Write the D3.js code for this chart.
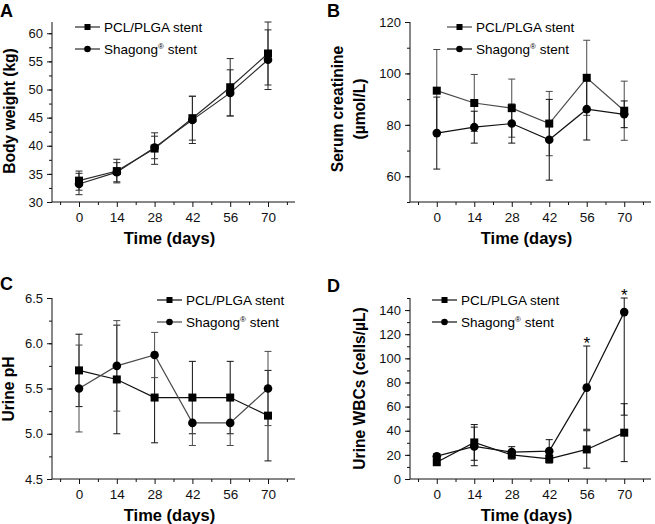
<!DOCTYPE html>
<html>
<head>
<meta charset="utf-8">
<script src="https://cdn.jsdelivr.net/npm/d3@7"></script>
<style>
  body { margin: 0; background: #fff; }
  svg { display: block; font-family: "Liberation Sans", Arial, sans-serif; }
  .tick text { fill: #111; }
  .domain, .tick line { stroke: #111; stroke-width: 1; }
</style>
</head>
<body>
<svg id="chart" width="655" height="524"></svg>
<script>
// time points (days)
const days = [0, 14, 28, 42, 56, 70];
const seriesNames = ["PCL/PLGA stent", "Shagong"];

// A - body weight (kg)
const weightPCL = [33.8, 35.5, 39.5, 44.9, 50.4, 56.4];
const weightPCLErr = [1.7, 2.1, 2.8, 3.9, 5.1, 5.6];
const weightSha = [33.2, 35.3, 39.7, 44.6, 49.4, 55.3];
const weightShaErr = [1.9, 1.7, 2.0, 4.2, 4.1, 5.3];

// B - serum creatinine (umol/L)
const creatPCL = [93.3, 88.5, 86.5, 80.5, 98.3, 85.5];
const creatPCLErr = [16, 11.1, 11.3, 12.5, 14.6, 11.5];
const creatSha = [76.8, 79.1, 80.5, 74.2, 86.1, 84.1];
const creatShaErr = [14, 6.2, 7.6, 15.7, 12, 5.2];

// C - urine pH
const phPCL = [5.7, 5.6, 5.4, 5.4, 5.4, 5.2];
const phPCLErr = [0.4, 0.6, 0.5, 0.4, 0.4, 0.5];
const phSha = [5.5, 5.75, 5.87, 5.12, 5.12, 5.5];
const phShaErr = [0.48, 0.5, 0.25, 0.25, 0.25, 0.41];

// D - urine WBCs (cells/uL)
const wbcPCL = [13.9, 30.3, 20, 16.7, 24.5, 38.4];
const wbcPCLErr = [2, 14.8, 3.5, 3.5, 15.5, 24];
const wbcSha = [18.9, 27, 22.3, 23.1, 75.7, 138.3];
const wbcShaErr = [2, 16, 4.5, 9.5, 34.5, 85.4];
const wbcStarDays = [56, 70];

const svg = d3.select("#chart");

const panels = [
  {letter: "A", lx: 0, ly: 17, left: 52, right: 295, top: 22, bottom: 202,
   yDomain: [30, 62], yMajor: d3.range(30, 61, 5), yMinor: d3.range(30, 62, 2.5), fmt: d3.format("d"),
   title: ["Body weight (kg)"], titleX: 14.5, titleY: 111,
   a: weightPCL, ae: weightPCLErr, b: weightSha, be: weightShaErr,
   colA: "#2a2a2a", colB: "#2a2a2a", legX: 75, legY: 27},
  {letter: "B", lx: 327, ly: 17, left: 410, right: 651, top: 22, bottom: 202,
   yDomain: [50, 120], yMajor: d3.range(60, 121, 20), yMinor: d3.range(50, 121, 10), fmt: d3.format("d"),
   title: ["Serum creatinine", "(\u00b5mol/L)"], titleX: 343, titleY: 109,
   a: creatPCL, ae: creatPCLErr, b: creatSha, be: creatShaErr,
   colA: "#4a4a4a", colB: "#111", legX: 447, legY: 27},
  {letter: "C", lx: 0, ly: 290, left: 52, right: 295, top: 298, bottom: 479,
   yDomain: [4.5, 6.5], yMajor: d3.range(4.5, 6.51, 0.5), yMinor: d3.range(4.5, 6.51, 0.25), fmt: d3.format(".1f"),
   title: ["Urine pH"], titleX: 13.5, titleY: 389,
   a: phPCL, ae: phPCLErr, b: phSha, be: phShaErr,
   colA: "#111", colB: "#4a4a4a", legX: 157, legY: 300},
  {letter: "D", lx: 327, ly: 292, left: 410, right: 651, top: 298, bottom: 479,
   yDomain: [0, 150], yMajor: d3.range(0, 141, 20), yMinor: d3.range(0, 151, 10), fmt: d3.format("d"),
   title: ["Urine WBCs (cells/\u00b5L)"], titleX: 364.5, titleY: 388.5,
   a: wbcPCL, ae: wbcPCLErr, b: wbcSha, be: wbcShaErr,
   colA: "#111", colB: "#111", legX: 432, legY: 300, stars: wbcStarDays}
];

panels.forEach(drawPanel);

function drawPanel(p) {
  const g = svg.append("g");
  const x = d3.scaleLinear().domain([-10, 80]).range([p.left, p.right]);
  const y = d3.scaleLinear().domain(p.yDomain).range([p.bottom, p.top]);

  // panel letter
  g.append("text").attr("x", p.lx).attr("y", p.ly)
    .style("font-size", "18px").style("font-weight", "bold").text(p.letter);

  // x axis, minor ticks then major
  g.append("g").attr("transform", `translate(0,${p.bottom})`)
    .call(d3.axisBottom(x).tickValues(d3.range(-7, 80, 14)).tickSize(3).tickFormat(""))
    .call(a => a.select(".domain").remove());
  g.append("g").attr("transform", `translate(0,${p.bottom})`)
    .call(d3.axisBottom(x).tickValues(days).tickSize(5).tickSizeOuter(0).tickPadding(5))
    .call(a => a.select(".domain").attr("d", `M${p.left},0H${p.right}`))
    .call(a => a.selectAll("text").style("font-size", "13.5px"));

  // y axis
  g.append("g").attr("transform", `translate(${p.left},0)`)
    .call(d3.axisLeft(y).tickValues(p.yMinor).tickSize(3).tickFormat(""))
    .call(a => a.select(".domain").remove());
  g.append("g").attr("transform", `translate(${p.left},0)`)
    .call(d3.axisLeft(y).tickValues(p.yMajor).tickSize(5).tickSizeOuter(0).tickPadding(4).tickFormat(p.fmt))
    .call(a => a.select(".domain").attr("d", `M0,${p.bottom}V${p.top}`))
    .call(a => a.selectAll("text").style("font-size", "13px"));

  // axis titles
  g.append("text").attr("x", (p.left + p.right) / 2 - 4).attr("y", p.bottom + 42)
    .attr("text-anchor", "middle").style("font-size", "16.5px").style("font-weight", "bold")
    .text("Time (days)");
  p.title.forEach((t, i) => {
    g.append("text")
      .attr("transform", `translate(${p.titleX + i * 21.5},${p.titleY}) rotate(-90)`)
      .attr("text-anchor", "middle").style("font-size", "15.6px").style("font-weight", "bold")
      .text(t);
  });

  const ymax = p.yDomain[1];
  const series = [
    {v: p.a, e: p.ae, shape: "square", col: p.colA},
    {v: p.b, e: p.be, shape: "circle", col: p.colB}
  ];
  const line = d3.line().x((d, i) => x(days[i])).y(d => y(d));

  series.forEach(s => {
    g.append("path").attr("d", line(s.v)).attr("fill", "none")
      .attr("stroke", s.col).attr("stroke-width", 1.2);
  });

  // error bars
  series.forEach(s => {
    s.v.forEach((v, i) => {
      const hi = Math.min(v + s.e[i], ymax), lo = v - s.e[i];
      const cx = x(days[i]);
      g.append("line").attr("x1", cx).attr("x2", cx).attr("y1", y(hi)).attr("y2", y(lo))
        .attr("stroke", s.col).attr("stroke-width", 1);
      [hi, lo].forEach(c => {
        g.append("line").attr("x1", cx - 3.5).attr("x2", cx + 3.5).attr("y1", y(c)).attr("y2", y(c))
          .attr("stroke", s.col).attr("stroke-width", 1);
      });
    });
  });

  // markers
  series.forEach(s => {
    s.v.forEach((v, i) => drawMarker(g, s.shape, x(days[i]), y(v), 8));
  });

  // significance stars
  if (p.stars) {
    p.stars.forEach(d => {
      const i = days.indexOf(d);
      const hi = Math.min(p.b[i] + p.be[i], ymax);
      g.append("text").attr("x", x(d)).attr("y", y(hi) + 3)
        .attr("text-anchor", "middle").style("font-size", "17px").text("*");
    });
  }

  // legend
  series.forEach((s, k) => {
    const ly = p.legY + k * 22;
    g.append("line").attr("x1", p.legX).attr("x2", p.legX + 25).attr("y1", ly).attr("y2", ly)
      .attr("stroke", s.col).attr("stroke-width", 1.2);
    drawMarker(g, s.shape, p.legX + 12.5, ly, 6);
    const t = g.append("text").attr("x", p.legX + 29).attr("y", ly + 5)
      .style("font-size", "13.5px").text(seriesNames[k]);
    if (k === 1) {
      t.append("tspan").attr("dy", -5).style("font-size", "8px").text("\u00ae");
      t.append("tspan").attr("dy", 5).text(" stent");
    }
  });
}

function drawMarker(g, shape, cx, cy, size) {
  if (shape === "square") {
    g.append("rect").attr("x", cx - size / 2).attr("y", cy - size / 2)
      .attr("width", size).attr("height", size).attr("fill", "#000");
  } else {
    g.append("circle").attr("cx", cx).attr("cy", cy).attr("r", size / 2 + 0.3).attr("fill", "#000");
  }
}
</script>
</body>
</html>
